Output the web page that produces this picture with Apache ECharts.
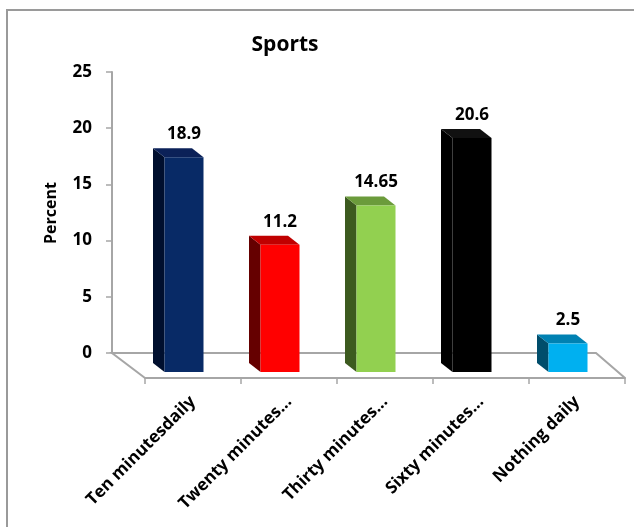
<!DOCTYPE html>
<html><head><meta charset="utf-8">
<script src="https://cdn.jsdelivr.net/npm/echarts@6/dist/echarts.min.js"></script>
<style>html,body{margin:0;padding:0;background:#fff}#c{width:634px;height:527px}</style>
</head><body><div id="c"></div>
<script>
const categories = ['Ten minutesdaily', 'Twenty minutes...', 'Thirty minutes...', 'Sixty minutes...', 'Nothing daily'];
const values = [18.9, 11.2, 14.65, 20.6, 2.5];
const yTicks = [0, 5, 10, 15, 20, 25];
const frontColors = ['#082a66', '#ff0000', '#92d050', '#000000', '#00b0f0'];
const topColors = ['#0b2158', '#c00000', '#6b9b3b', '#111111', '#0081b2'];
const sideColors = ['#000f2e', '#650000', '#3c5a1f', '#000000', '#004d6b'];

const FONT = '"Open Sans", "DejaVu Sans", sans-serif';
const AXIS_GRAY = '#a6a6a6';

const chart = echarts.init(document.getElementById('c'), null, {renderer: 'canvas'});

const option = {
  backgroundColor: '#fff',
  animation: false,
  title: {
    text: 'Sports', left: 280, top: 30, textAlign: 'center',
    textStyle: {fontFamily: FONT, fontWeight: 'bold', fontSize: 21, color: '#000'}
  },
  graphic: [
    {type: 'rect', shape: {x: 7, y: 10, width: 700, height: 600},
     style: {fill: null, stroke: '#9a9a9a', lineWidth: 2}, z: 0},
    {type: 'text', x: 51, y: 213, rotation: Math.PI / 2,
     style: {text: 'Percent', align: 'center', verticalAlign: 'middle',
             font: 'bold 16px ' + FONT, fill: '#000'}}
  ],
  grid: [
    {left: 112, right: 38, top: 72, bottom: 174, outerBoundsMode: 'none', containLabel: false},
    {left: 145, right: 9, top: 88, bottom: 155, outerBoundsMode: 'none', containLabel: false}
  ],
  xAxis: [
    {type: 'category', gridIndex: 0, data: categories, show: false},
    {type: 'category', gridIndex: 1, data: categories, offset: 6,
     axisLine: {show: true, onZero: false, lineStyle: {color: AXIS_GRAY, width: 2}},
     axisTick: {show: true, length: 6, alignWithLabel: false, lineStyle: {color: AXIS_GRAY, width: 1.5}},
     axisLabel: {interval: 0, rotate: 45, margin: 21, fontFamily: FONT, fontWeight: 'bold', fontSize: 17, color: '#000'},
     splitLine: {show: false}}
  ],
  yAxis: [
    {type: 'value', gridIndex: 0, min: yTicks[0], max: yTicks[yTicks.length - 1], interval: yTicks[1] - yTicks[0],
     axisLine: {show: true, lineStyle: {color: AXIS_GRAY, width: 2}},
     axisTick: {show: true, length: 6, lineStyle: {color: AXIS_GRAY, width: 1.5}},
     axisLabel: {margin: 20, fontFamily: FONT, fontWeight: 'bold', fontSize: 17, color: '#000'},
     splitLine: {show: false}},
    {type: 'value', gridIndex: 1, min: yTicks[0], max: yTicks[yTicks.length - 1], show: false, splitLine: {show: false}}
  ],
  series: [
    {
      type: 'custom', xAxisIndex: 0, yAxisIndex: 0, z: 1, silent: true,
      data: [[0, 0]],
      renderItem: function (params, api) {
        const n = categories.length;
        const a = api.coord([0, 0]);
        const b = api.coord([n - 1, 0]);
        const hw = api.size([1, 0])[0] / 2;
        const L = [a[0] - hw, a[1]], R = [b[0] + hw, b[1]];
        return {
          type: 'polyline',
          shape: {points: [[L[0] + 33, L[1] + 25], L, R, [R[0] + 29, R[1] + 25]]},
          style: {stroke: AXIS_GRAY, lineWidth: 2, fill: null}
        };
      }
    },
    {
      type: 'custom', xAxisIndex: 1, yAxisIndex: 1, z: 3, silent: true,
      data: values.map(function (v, i) { return [i, v]; }),
      encode: {x: 0, y: 1},
      renderItem: function (params, api) {
        const i = api.value(0), v = api.value(1);
        const t = api.coord([i, v]);
        const b = api.coord([i, 0]);
        const cx = t[0] - 9, hw = 19.5, dx = -11.5, dy = -9;
        const x0 = cx - hw, x1 = cx + hw, yt = t[1], yb = b[1];
        return {
          type: 'group',
          children: [
            {type: 'polygon', shape: {points: [[x0, yt], [x0 + dx, yt + dy], [x0 + dx, yb + dy], [x0, yb]]},
             style: {fill: sideColors[i]}},
            {type: 'polygon', shape: {points: [[x0, yt], [x0 + dx, yt + dy], [x1 + dx, yt + dy], [x1, yt]]},
             style: {fill: topColors[i]}},
            {type: 'rect', shape: {x: x0, y: yt, width: x1 - x0, height: yb - yt},
             style: {fill: frontColors[i]}},
            {type: 'text', x: cx, y: yt - 23,
             style: {text: String(values[i]), align: 'center', verticalAlign: 'middle',
                     font: 'bold 17px ' + FONT, fill: '#000'}}
          ]
        };
      }
    }
  ]
};
chart.setOption(option);
</script>
</body></html>
